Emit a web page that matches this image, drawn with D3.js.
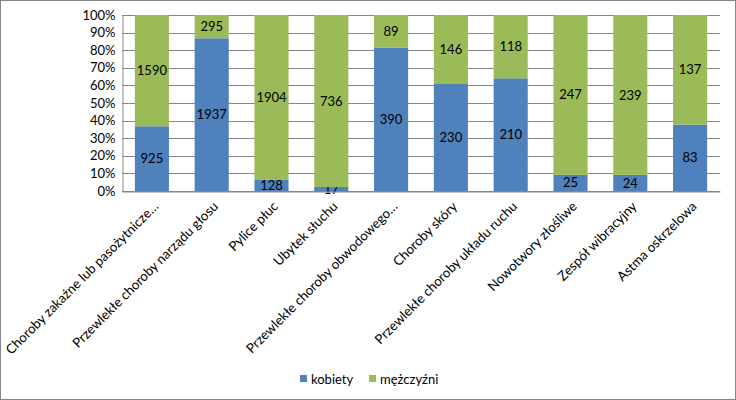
<!DOCTYPE html>
<html>
<head>
<meta charset="utf-8">
<script src="https://cdn.jsdelivr.net/npm/d3@7"></script>
<style>
  body { margin: 0; background: #fff; }
  text { font-family: Lato, "Liberation Sans", sans-serif; fill: #000; }
</style>
</head>
<body>
<div id="chart-area"></div>
<script>
// categories and values
var categories = [
	"Choroby zakaźne lub pasożytnicze…",
	"Przewlekłe choroby narządu głosu",
	"Pylice płuc",
	"Ubytek słuchu",
	"Przewlekłe choroby obwodowego…",
	"Choroby skóry",
	"Przewlekłe choroby układu ruchu",
	"Nowotwory złośliwe",
	"Zespół wibracyjny",
	"Astma oskrzelowa"
];
var kobiety   = [925, 1937, 128, 17, 390, 230, 210, 25, 24, 83];
var mezczyzni = [1590, 295, 1904, 736, 89, 146, 118, 247, 239, 137];
var seriesNames = ["kobiety", "mężczyźni"];
var seriesColors = ["#4F81BD", "#9BBB59"];
var yTicks = [0, 0.1, 0.2, 0.3, 0.4, 0.5, 0.6, 0.7, 0.8, 0.9, 1];

var width = 736, height = 400;
var margin = {top: 15, right: 16, bottom: 209, left: 122};

var svg = d3.select("#chart-area").append("svg")
	.attr("width", width)
	.attr("height", height)

// outer chart border
svg.append("rect")
	.attr("x", 0.5).attr("y", 0.5)
	.attr("width", width - 1).attr("height", height - 1)
	.attr("fill", "#fff")
	.attr("stroke", "#868686")

var table = categories.map(function(c, i) {
	return {cat: c, kobiety: kobiety[i], "mężczyźni": mezczyzni[i]};
});
var stack = d3.stack().keys(seriesNames).offset(d3.stackOffsetExpand);
var layers = stack(table);

var x = d3.scaleBand()
	.domain(categories)
	.range([margin.left, width - margin.right])
	.paddingInner(0.43)
	.paddingOuter(0.215);

var y = d3.scaleLinear()
	.domain([0, 1])
	.range([height - margin.bottom, margin.top]);

// gridlines
svg.append("g")
	.selectAll("line")
	.data(yTicks)
	.enter().append("line")
	.attr("x1", margin.left)
	.attr("x2", width - margin.right)
	.attr("y1", function(d) { return Math.round(y(d)) + 0.5 })
	.attr("y2", function(d) { return Math.round(y(d)) + 0.5 })
	.attr("stroke", "#868686")

// bars
var layer = svg.selectAll("g.layer")
	.data(layers)
	.enter().append("g")
	.attr("class", "layer")
	.attr("fill", function(d, i) { return seriesColors[i] });

layer.selectAll("rect")
	.data(function(d) { return d })
	.enter().append("rect")
	.attr("x", function(d) { return x(d.data.cat) })
	.attr("width", x.bandwidth())
	.attr("y", function(d) { return y(d[1]) })
	.attr("height", function(d) { return y(d[0]) - y(d[1]) });

// value labels
layer.each(function(L) {
	d3.select(this).selectAll("text")
		.data(L)
		.enter().append("text")
		.attr("x", function(d) { return x(d.data.cat) + x.bandwidth() / 2 })
		.attr("y", function(d) { return (y(d[0]) + y(d[1])) / 2 })
		.attr("dy", "0.35em")
		.attr("text-anchor", "middle")
		.style("font-size", "13px")
		.text(function(d) { return d.data[L.key] });
});

// y axis
var yAxis = d3.axisLeft(y)
	.tickValues(yTicks)
	.tickSize(0)
	.tickPadding(7)
	.tickFormat(d3.format(".0%"));

var gy = svg.append("g")
	.attr("transform", "translate(" + (margin.left + 0.5) + ",0)")
	.call(yAxis);
gy.select(".domain").attr("stroke", "#868686");
gy.selectAll("text").style("font-size", "13px").style("font-family", "Lato, sans-serif");

// x axis
var xAxis = d3.axisBottom(x).tickSize(0).tickFormat("");
var gx = svg.append("g")
	.attr("transform", "translate(0," + (Math.round(y(0)) + 0.5) + ")")
	.call(xAxis);
gx.select(".domain").attr("stroke", "#868686");

svg.append("g")
	.selectAll("text")
	.data(categories)
	.enter().append("text")
	.attr("transform", function(d) {
		return "translate(" + (x(d) + x.bandwidth() / 2 + 4) + "," + (y(0) + 13) + ") rotate(-45)";
	})
	.attr("text-anchor", "end")
	.attr("dy", "0.35em")
	.style("font-size", "13.3px")
	.text(function(d) { return d });

// legend
var legend = svg.append("g")
	.attr("transform", "translate(300,375)");
var legendX = [0, 69];
seriesNames.forEach(function(name, i) {
	legend.append("rect")
		.attr("x", legendX[i]).attr("y", 0)
		.attr("width", 7).attr("height", 7)
		.attr("fill", seriesColors[i]);
	legend.append("text")
		.attr("x", legendX[i] + 11).attr("y", 4)
		.attr("dy", "0.35em")
		.style("font-size", "13px")
		.text(name);
});
</script>
</body>
</html>
